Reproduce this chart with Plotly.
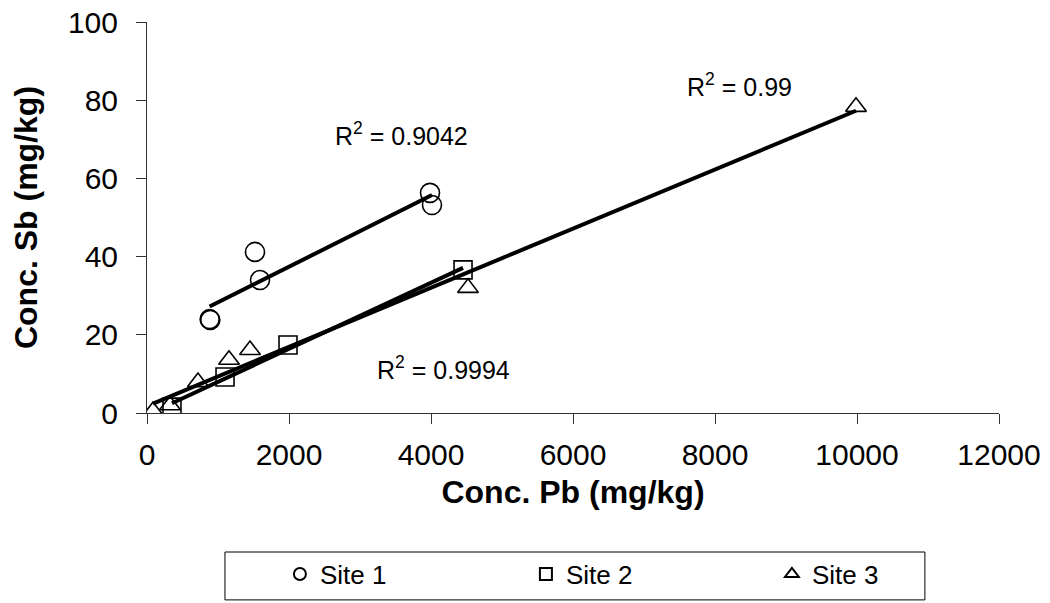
import numpy as np
import plotly.graph_objects as go

# ---- data ----
site1_pb = [882, 892, 1521, 1592, 3986, 4014]
site1_sb = [24.0, 23.8, 41.2, 34.0, 56.3, 53.2]

site2_pb = [352, 1099, 1986, 4451]
site2_sb = [1.5, 9.2, 17.4, 36.6]

site3_pb = [85, 324, 718, 1155, 1451, 4521, 9986]
site3_sb = [0.5, 2.0, 7.9, 13.6, 16.1, 32.0, 78.3]

series_names = ["Site 1", "Site 2", "Site 3"]
r2_labels = ["R<sup>2</sup> = 0.9042", "R<sup>2</sup> = 0.9994", "R<sup>2</sup> = 0.99"]
r2_pos_x = [2620, 3211, 7577]
r2_pos_y = [71.4, 11.5, 83.9]

x_ticks = [0, 2000, 4000, 6000, 8000, 10000, 12000]
y_ticks = [0, 20, 40, 60, 80, 100]

FONT = "Arial, Liberation Sans, sans-serif"

fig = go.Figure()

symbols = ["circle-open", "square-open", "triangle-up-open"]
sizes = [19, 18, 18]
all_data = [(site1_pb, site1_sb), (site2_pb, site2_sb), (site3_pb, site3_sb)]

for (xs, ys), name, sym, sz in zip(all_data, series_names, symbols, sizes):
    fig.add_trace(go.Scatter(
        x=xs, y=ys, mode="markers", name=name,
        marker=dict(symbol=sym, size=sz, color="black", line=dict(width=1.6)),
    ))

# linear trend lines computed from the data
for xs, ys in all_data:
    xs_a = np.array(xs, dtype=float)
    ys_a = np.array(ys, dtype=float)
    m, b = np.polyfit(xs_a, ys_a, 1)
    xl = [xs_a.min(), xs_a.max()]
    yl = [m * v + b for v in xl]
    fig.add_trace(go.Scatter(
        x=xl, y=yl, mode="lines", showlegend=False, hoverinfo="skip",
        line=dict(color="black", width=4),
    ))

for txt, ax_, ay_ in zip(r2_labels, r2_pos_x, r2_pos_y):
    fig.add_annotation(
        x=ax_, y=ay_, xref="x", yref="y", text=txt, showarrow=False,
        xanchor="left", yanchor="middle",
        font=dict(family=FONT, size=25, color="black"),
    )

# legend frame
fig.add_shape(
    type="rect", xref="paper", yref="paper",
    x0=0.0915, x1=0.913, y0=-0.478, y1=-0.3555,
    line=dict(color="black", width=1), fillcolor="rgba(0,0,0,0)",
)

fig.update_layout(
    width=1050, height=603,
    margin=dict(l=147, r=51, t=22, b=190, autoexpand=False),
    paper_bgcolor="white", plot_bgcolor="white",
    font=dict(family=FONT, color="black"),
    showlegend=True,
    legend=dict(
        orientation="h", x=0.156, xanchor="left", y=-0.412, yanchor="middle",
        entrywidth=201, entrywidthmode="pixels", itemsizing="constant",
        font=dict(family=FONT, size=26, color="black"),
        bgcolor="rgba(0,0,0,0)", borderwidth=0,
    ),
    xaxis=dict(
        range=[0, 12000], tickvals=x_ticks, ticktext=[str(v) for v in x_ticks],
        showgrid=False, zeroline=False, showline=True, linecolor="#333",
        linewidth=1, ticks="outside", ticklen=10, tickcolor="#333",
        ticklabelstandoff=5,
        tickfont=dict(family=FONT, size=30, color="black"),
        title=dict(text="<b>Conc. Pb (mg/kg)</b>", standoff=10,
                   font=dict(family=FONT, size=32, color="black")),
    ),
    yaxis=dict(
        range=[0, 100], tickvals=y_ticks, ticktext=[str(v) for v in y_ticks],
        showgrid=False, zeroline=False, showline=True, linecolor="#333",
        linewidth=1, ticks="outside", ticklen=10, tickcolor="#333",
        ticklabelstandoff=12,
        tickfont=dict(family=FONT, size=30, color="black"),
        title=dict(text="<b>Conc. Sb (mg/kg)</b>", standoff=20,
                   font=dict(family=FONT, size=32, color="black")),
    ),
)

fig.write_html("out.html")
